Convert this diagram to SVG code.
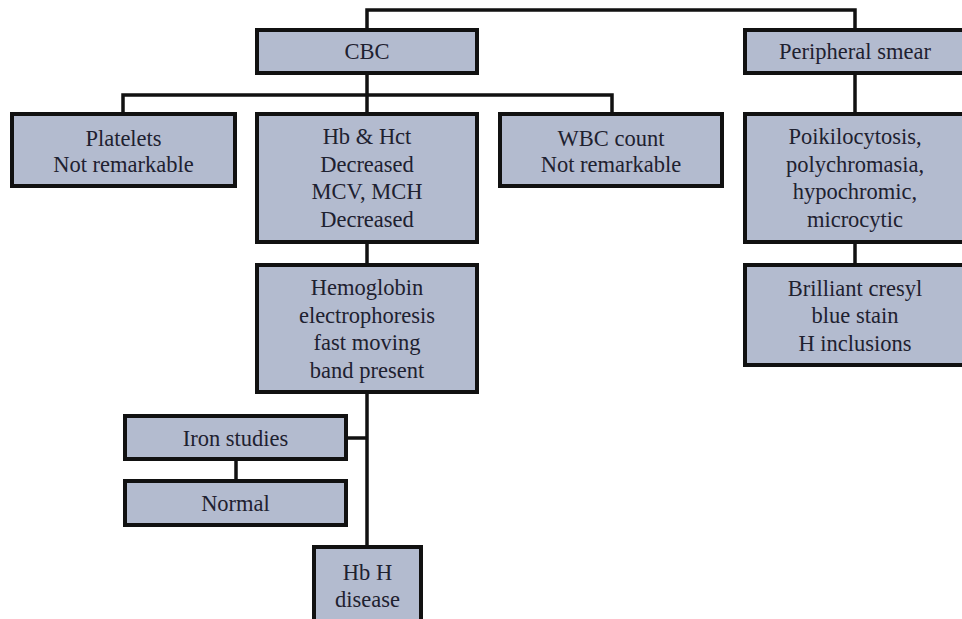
<svg xmlns="http://www.w3.org/2000/svg" width="962" height="619" viewBox="0 0 962 619" font-family="'Liberation Serif', 'DejaVu Serif', 'Times New Roman', serif">
<style>
.box{fill:#b3bbcf;stroke:#111;stroke-width:4}
.t{font-family:'Liberation Serif','DejaVu Serif','Times New Roman',serif;font-size:22.5px;fill:#1e2130;text-anchor:middle}
.c{fill:none;stroke:#111;stroke-width:3.5}
</style>
<rect width="962" height="619" fill="#fff"/>
<g id="connectors">
<path class="c" d="M367,28 V10 H855 V28"/>
<path class="c" d="M367,75 V113"/>
<path class="c" d="M123,112 V95 H612 V112"/>
<path class="c" d="M855,75 V112"/>
<path class="c" d="M855,244 V263"/>
<path class="c" d="M367,244 V263"/>
<path class="c" d="M367,394 V545"/>
<path class="c" d="M348,438 H367"/>
<path class="c" d="M236,461 V479"/>
</g>
<g id="cbc"><rect class="box" x="257" y="30" width="220" height="43"/><text class="t" x="367" y="59">CBC</text></g>
<g id="peripheral-smear"><rect class="box" x="745" y="30" width="222" height="43"/><text class="t" x="855" y="59">Peripheral smear</text></g>
<g id="platelets"><rect class="box" x="12" y="114" width="223" height="72"/><text class="t" x="123.5" y="146">Platelets</text><text class="t" x="123.5" y="172">Not remarkable</text></g>
<g id="hb-hct"><rect class="box" x="257" y="114" width="220" height="128"/><text class="t" x="367" y="144">Hb &amp; Hct</text><text class="t" x="367" y="172">Decreased</text><text class="t" x="367" y="199">MCV, MCH</text><text class="t" x="367" y="227">Decreased</text></g>
<g id="wbc"><rect class="box" x="500" y="114" width="222" height="72"/><text class="t" x="611" y="146">WBC count</text><text class="t" x="611" y="172">Not remarkable</text></g>
<g id="poikilocytosis"><rect class="box" x="745" y="114" width="222" height="128"/><text class="t" x="855" y="144">Poikilocytosis,</text><text class="t" x="855" y="172">polychromasia,</text><text class="t" x="855" y="199">hypochromic,</text><text class="t" x="855" y="227">microcytic</text></g>
<g id="brilliant-cresyl"><rect class="box" x="745" y="265" width="222" height="100"/><text class="t" x="855" y="296">Brilliant cresyl</text><text class="t" x="855" y="323">blue stain</text><text class="t" x="855" y="351">H inclusions</text></g>
<g id="hemoglobin-electrophoresis"><rect class="box" x="257" y="265" width="220" height="127"/><text class="t" x="367" y="295">Hemoglobin</text><text class="t" x="367" y="323">electrophoresis</text><text class="t" x="367" y="350">fast moving</text><text class="t" x="367" y="378">band present</text></g>
<g id="iron-studies"><rect class="box" x="125" y="416" width="221" height="43"/><text class="t" x="235.5" y="446">Iron studies</text></g>
<g id="normal"><rect class="box" x="125" y="481" width="221" height="44"/><text class="t" x="235.5" y="511">Normal</text></g>
<g id="hbh-disease"><rect class="box" x="314" y="547" width="107" height="80"/><text class="t" x="367.5" y="580">Hb H</text><text class="t" x="367.5" y="607">disease</text></g>
</svg>
